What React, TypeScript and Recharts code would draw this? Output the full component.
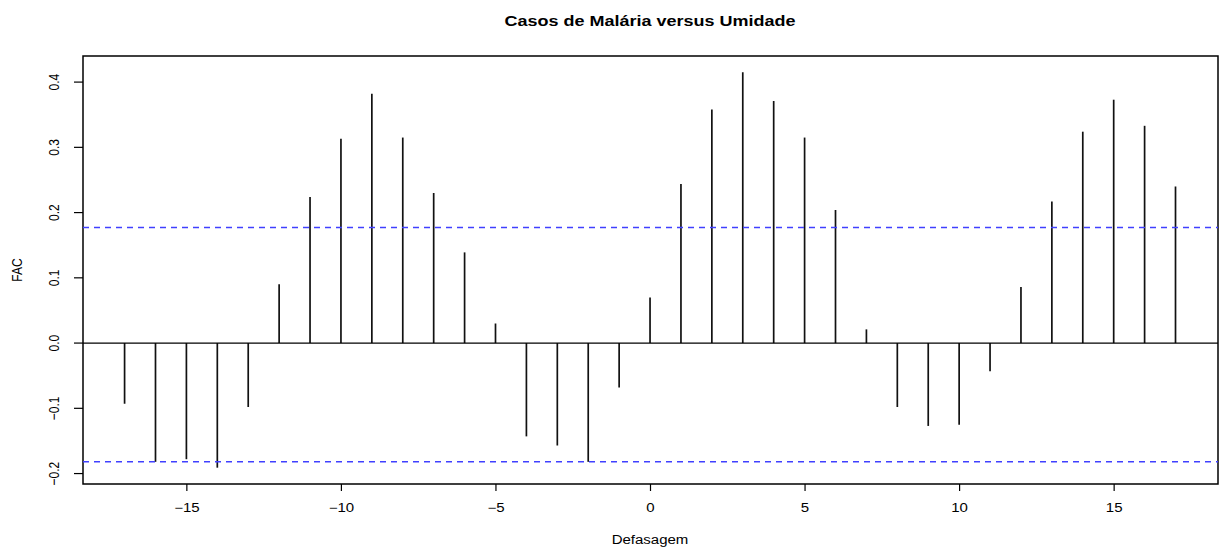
import * as React from 'react';
import {
  ComposedChart, XAxis, YAxis, Bar, ReferenceLine, ReferenceArea, Customized,
} from 'recharts';

// lags of the cross-correlation
const lags = [
  -17, -16, -15, -14, -13, -12, -11, -10, -9, -8, -7, -6, -5, -4, -3, -2, -1,
  0, 1, 2, 3, 4, 5, 6, 7, 8, 9, 10, 11, 12, 13, 14, 15, 16, 17,
];
// FAC values
const fac = [
  -0.093, -0.182, -0.178, -0.191, -0.098, 0.09, 0.224, 0.313, 0.382, 0.315, 0.23, 0.139, 0.03,
  -0.143, -0.157, -0.182, -0.068,
  0.07, 0.244, 0.358, 0.415, 0.371, 0.315, 0.204, 0.021, -0.098, -0.127, -0.125, -0.043,
  0.086, 0.217, 0.324, 0.373, 0.333, 0.24,
];
// dashed confidence bounds, as they sit in the picture
const confUpper = 0.177;
const confLower = -0.182;
const xTicks = [-15, -10, -5, 0, 5, 10, 15];
const yTicks = [-0.2, -0.1, 0, 0.1, 0.2, 0.3, 0.4];

const xDomain = [-18.36, 18.36];
const yDomain = [-0.216, 0.44];

const data = lags.map((lag, i) => ({ lag, fac: fac[i] }));

const FONT = '"Liberation Sans", Arial, Helvetica, sans-serif';
const SX = 1.25; // the original picture is stretched sideways

const minus = (s: string) => s.replace('-', '\u2212');

function XTick({ x, y, payload }: any) {
  return <text transform={`translate(${x},${y + 21}) scale(${SX},1)`} textAnchor="middle"
    fontFamily={FONT} fontSize={12} fill="#000">{minus(String(payload.value))}</text>;
}

function YTick({ x, y, payload }: any) {
  return <text transform={`translate(${x - 15.5},${y}) scale(${SX},1) rotate(-90)`} textAnchor="middle"
    fontFamily={FONT} fontSize={12} fill="#000">{minus(Number(payload.value).toFixed(1))}</text>;
}

function Spike(props: any) {
  const { x, y, width, height } = props;
  const cx = x + width / 2;
  return <line x1={cx} x2={cx} y1={y} y2={y + height} stroke="#111" strokeWidth={1.7} />;
}

function Texts() {
  return <g fontFamily={FONT} fill="#000">
    <text transform={`translate(650,26) scale(${SX},1)`} textAnchor="middle" fontSize={14.4} fontWeight="bold">
      Casos de Malária versus Umidade
    </text>
    <text transform={`translate(650,544) scale(${SX},1)`} textAnchor="middle" fontSize={12}>Defasagem</text>
    <text transform={`translate(22,270) scale(${SX},1) rotate(-90)`} textAnchor="middle" fontSize={12}>FAC</text>
  </g>;
}

export default function App() {
  return <div style={{ position: 'absolute', left: 0, top: 0, background: '#fff' }}>
    <ComposedChart width={1227} height={553} data={data} margin={{ top: 56, right: 9, left: 0, bottom: 0 }}>
      <XAxis dataKey="lag" type="number" domain={xDomain} ticks={xTicks} allowDataOverflow
        height={69} tickSize={7} tickMargin={0} axisLine={false}
        tickLine={{ stroke: '#000', strokeWidth: 1.2 }} tick={<XTick />} interval={0} />
      <YAxis type="number" domain={yDomain} ticks={yTicks} allowDataOverflow
        width={83} tickSize={9} tickMargin={0} axisLine={false}
        tickLine={{ stroke: '#000', strokeWidth: 1.2 }} tick={<YTick />} interval={0} />
      <ReferenceArea x1={xDomain[0]} x2={xDomain[1]} y1={yDomain[0]} y2={yDomain[1]}
        fill="none" fillOpacity={0} stroke="#000" strokeWidth={1.5} ifOverflow="visible" />
      <ReferenceLine y={0} stroke="#000" strokeWidth={1.3} />
      <ReferenceLine y={confUpper} stroke="#4040ff" strokeWidth={1.5} strokeDasharray="6 5" />
      <ReferenceLine y={confLower} stroke="#4040ff" strokeWidth={1.5} strokeDasharray="6 5" />
      <Bar dataKey="fac" barSize={2} shape={<Spike />} isAnimationActive={false} />
      <Customized component={Texts} />
    </ComposedChart>
  </div>;
}
